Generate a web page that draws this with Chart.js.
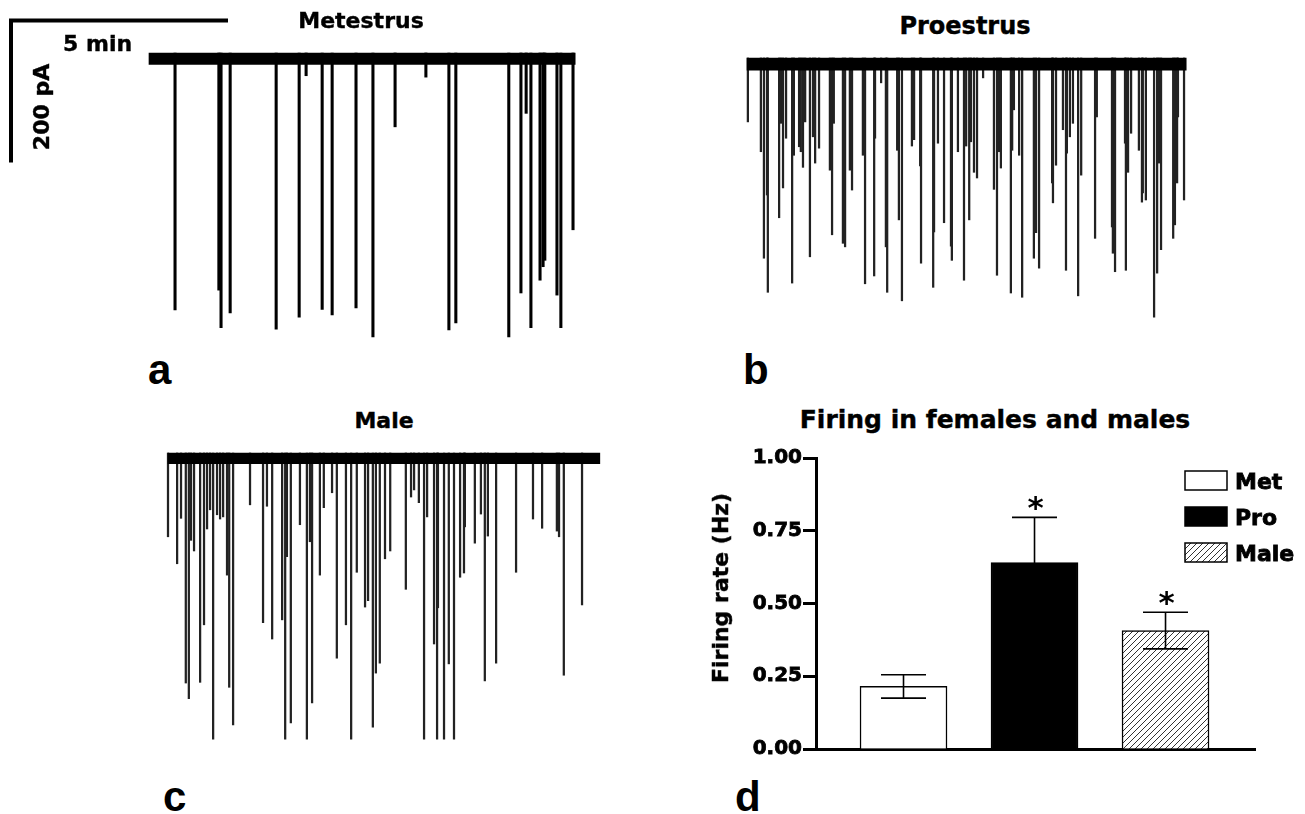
<!DOCTYPE html>
<html><head><meta charset="utf-8">
<script src="https://cdn.jsdelivr.net/npm/chart.js@4.4.1/dist/chart.umd.min.js"></script>
<style>
html,body{margin:0;padding:0;background:#fff;}
body{width:1305px;height:814px;position:relative;overflow:hidden;font-family:"DejaVu Sans",sans-serif;color:#000;}
.box{position:absolute;}
.t{position:absolute;white-space:nowrap;line-height:1;font-weight:bold;font-family:"DejaVu Sans",sans-serif;-webkit-text-stroke:0.4px #000;}
.c{transform:translateX(-50%);}
.rot{transform:translate(-50%,-50%) rotate(-90deg);}
.letter{font-family:"Liberation Sans",Arial,sans-serif;font-size:42px;-webkit-text-stroke:0;}
</style></head><body>
<div id="wa" class="box" style="left:0px;top:0px;width:590px;height:345px"><canvas id="ca"></canvas></div>
<div id="wb" class="box" style="left:735px;top:45px;width:465px;height:285px"><canvas id="cb"></canvas></div>
<div id="wc" class="box" style="left:155px;top:440px;width:460px;height:310px"><canvas id="cc"></canvas></div>
<div id="wd" class="box" style="left:700px;top:440px;width:605px;height:330px"><canvas id="cd"></canvas></div>

<div class="t c" style="left:361px;top:10px;font-size:22px">Metestrus</div>
<div class="t c" style="left:965px;top:14px;font-size:24px">Proestrus</div>
<div class="t c" style="left:384px;top:410px;font-size:22px">Male</div>
<div class="t c" style="left:995px;top:407px;font-size:25px">Firing in females and males</div>
<div class="t" style="left:63px;top:33px;font-size:22px">5 min</div>
<div class="t rot" style="left:42px;top:107px;font-size:22px">200 pA</div>
<div class="t rot" style="left:721px;top:588px;font-size:22px">Firing rate (Hz)</div>
<div class="t letter" style="left:148px;top:349px">a</div>
<div class="t letter" style="left:743px;top:349px">b</div>
<div class="t letter" style="left:163px;top:776px">c</div>
<div class="t letter" style="left:735px;top:776px">d</div>

<script>
// ---------------- DATA ----------------
// Spike times (min from trace start) and amplitudes (pA, inward)
const metTimes = [0.60,1.61,1.66,1.87,2.93,3.46,3.62,3.99,4.22,4.77,5.16,5.67,6.38,6.91,7.07,8.29,8.57,8.69,8.80,9.01,9.08,9.12,9.40,9.49,9.77];
const metAmps  = [362,334,387,366,389,372,32,361,369,359,400,104,34,390,380,400,338,85,387,320,301,292,341,387,249];
const metDuration = 9.82;

const proTimes = [0.02,0.32,0.39,0.46,0.48,0.74,0.78,0.83,0.90,1.04,1.08,1.20,1.24,1.29,1.34,1.45,1.52,1.57,1.66,1.91,1.96,2.00,2.21,2.26,2.37,2.42,2.67,2.72,2.93,2.95,3.09,3.20,3.23,3.46,3.50,3.57,3.80,3.85,3.99,4.01,4.29,4.31,4.40,4.54,4.70,4.72,4.86,5.00,5.05,5.12,5.16,5.23,5.30,5.44,5.69,5.76,5.81,5.85,6.08,6.11,6.15,6.27,6.34,6.61,6.66,6.73,7.03,7.05,7.12,7.28,7.35,7.37,7.44,7.51,7.63,7.70,8.02,8.06,8.41,8.43,8.48,8.71,8.73,8.78,8.85,9.03,9.10,9.12,9.19,9.38,9.45,9.49,9.54,9.82,9.86,9.91,9.93,10.07];
const proAmps  = [90,132,282,193,330,225,92,183,113,317,137,125,132,154,90,280,111,148,127,158,249,92,261,266,158,186,137,318,307,113,35,266,330,130,228,342,124,115,152,289,323,245,120,232,265,285,132,313,124,228,118,161,169,28,185,306,132,155,331,130,73,137,337,282,246,296,176,204,151,101,299,134,111,92,335,165,254,83,238,275,301,120,299,161,106,130,203,190,200,365,303,148,270,254,235,176,83,200];
const proDuration = 10.12;

const maleTimes = [0.00,0.21,0.30,0.41,0.48,0.53,0.60,0.74,0.83,0.90,0.97,1.04,1.13,1.20,1.27,1.36,1.41,1.50,1.89,2.19,2.28,2.40,2.63,2.70,2.74,2.83,3.04,3.20,3.27,3.32,3.50,3.59,3.78,3.89,4.10,4.22,4.35,4.54,4.61,4.72,4.79,4.88,5.00,5.12,5.48,5.60,5.67,5.78,5.90,5.97,6.13,6.20,6.22,6.36,6.47,6.59,6.73,6.82,6.84,7.07,7.21,7.30,7.37,7.56,8.02,8.41,8.62,8.96,9.01,9.12,9.54];
const maleAmps  = [118,156,92,324,346,123,138,323,242,107,80,403,87,93,90,172,330,383,73,239,75,262,235,403,146,380,101,403,125,352,172,77,56,289,242,403,168,217,208,386,310,296,149,138,192,62,52,70,403,90,269,403,218,403,297,403,175,169,104,127,86,321,117,296,168,93,106,110,118,313,214];
const maleDuration = 9.95;

const noiseBandPA = [16, 17, 15];   // baseline noise band thickness (Met, Pro, Male)
const scaleBarMin = 5;
const scaleBarPA = 200;

const categories = ['Met', 'Pro', 'Male'];
const meanRate   = [0.215, 0.641, 0.407];
const semRate    = [0.040, 0.155, 0.063];
const sigMarks   = ['', '*', '*'];
const yTicks     = [0, 0.25, 0.50, 0.75, 1.00];

// ---------------- LAYOUT ----------------
const PX_PER_MIN = 43.4;
const PX_PER_PA = 0.71;
const FONT = '"DejaVu Sans", sans-serif';

function traceChart(id, box, origin, times, amps, duration, band, spikeW, color, extra) {
  const xmin = (box.left - origin.x) / PX_PER_MIN;
  const xmax = (box.left + box.w - origin.x) / PX_PER_MIN;
  const ymax = (origin.y - box.top) / PX_PER_PA;
  const ymin = (origin.y - box.top - box.h) / PX_PER_PA;
  const datasets = [
    {type:'bar', data:[{x: duration/2, y:[0, -band]}], backgroundColor:'#000', borderWidth:0,
     barThickness: duration * PX_PER_MIN, grouped:false},
    {type:'bar', data: times.map((t,i)=>({x:t, y:[0, -amps[i]]})), backgroundColor: color, borderWidth:0,
     barThickness: spikeW, grouped:false}
  ].concat(extra || []);
  return new Chart(document.getElementById(id), {
    type:'bar',
    data:{datasets},
    options:{
      responsive:true, maintainAspectRatio:false, animation:false, events:[],
      layout:{padding:0},
      plugins:{legend:{display:false}, tooltip:{enabled:false}, title:{display:false}},
      scales:{
        x:{type:'linear', display:false, offset:false, min:xmin, max:xmax},
        y:{type:'linear', display:false, min:ymin, max:ymax}
      }
    }
  });
}

// scale bar corner placement (px) converted into trace-a units
const originA = {x:149, y:53};
const sbCorner = {x:(11 - originA.x)/PX_PER_MIN, y:(originA.y - 20.5)/PX_PER_PA};
const scaleBar = {
  type:'line',
  data:[{x:sbCorner.x, y:sbCorner.y - scaleBarPA}, {x:sbCorner.x, y:sbCorner.y}, {x:sbCorner.x + scaleBarMin, y:sbCorner.y}],
  borderColor:'#000', borderWidth:4, pointRadius:0, fill:false, tension:0,
  borderJoinStyle:'miter', borderCapStyle:'butt'
};

traceChart('ca', {left:0, top:0, w:590, h:345}, originA, metTimes, metAmps, metDuration, noiseBandPA[0], 2.4, '#000', [scaleBar]);
traceChart('cb', {left:735, top:45, w:465, h:285}, {x:747, y:58}, proTimes, proAmps, proDuration, noiseBandPA[1], 1.6, '#222');
traceChart('cc', {left:155, top:440, w:460, h:310}, {x:168, y:453}, maleTimes, maleAmps, maleDuration, noiseBandPA[2], 1.6, '#222');

// ---------------- BAR CHART ----------------
const hatch = (() => {
  const c = document.createElement('canvas'); c.width = 6; c.height = 6;
  const g = c.getContext('2d');
  g.fillStyle = '#fff'; g.fillRect(0,0,6,6);
  g.strokeStyle = '#333'; g.lineWidth = 1;
  g.beginPath();
  g.moveTo(0,6); g.lineTo(6,0);
  g.moveTo(-1,1); g.lineTo(1,-1);
  g.moveTo(5,7); g.lineTo(7,5);
  g.stroke();
  return g.createPattern(c, 'repeat');
})();
const barColors = ['#fff', '#000', hatch];

const errorBarPlugin = {
  id:'errorBars',
  afterDatasetsDraw(chart) {
    const ctx = chart.ctx, ys = chart.scales.y;
    const meta = chart.getDatasetMeta(0);
    ctx.save();
    meta.data.forEach((bar, i) => {
      const x = bar.x;
      const top = ys.getPixelForValue(meanRate[i] + semRate[i]);
      const bot = ys.getPixelForValue(meanRate[i] - semRate[i]);
      const hw = 22.5;
      ctx.strokeStyle = '#000'; ctx.lineWidth = 1.6;
      ctx.beginPath();
      ctx.moveTo(x, top); ctx.lineTo(x, bot);
      ctx.moveTo(x - hw, top); ctx.lineTo(x + hw, top);
      ctx.moveTo(x - hw, bot); ctx.lineTo(x + hw, bot);
      ctx.stroke();
      if (sigMarks[i]) {
        ctx.fillStyle = '#000';
        ctx.font = 'bold 31px ' + FONT;
        ctx.textAlign = 'center'; ctx.textBaseline = 'alphabetic';
        ctx.fillText(sigMarks[i], x + 1, top + 1);
      }
    });
    ctx.restore();
  }
};

const legendPlugin = {
  id:'boxLegend',
  afterDraw(chart) {
    const ctx = chart.ctx;
    const bx = 485, by = 31, bw = 42, bh = 19, step = 36;
    ctx.save();
    categories.forEach((name, i) => {
      const y = by + i * step;
      ctx.fillStyle = barColors[i];
      ctx.fillRect(bx, y, bw, bh);
      ctx.strokeStyle = '#000'; ctx.lineWidth = 1.5;
      ctx.strokeRect(bx, y, bw, bh);
      ctx.fillStyle = '#000';
      ctx.font = 'bold 22px ' + FONT;
      ctx.textAlign = 'left'; ctx.textBaseline = 'alphabetic';
      ctx.lineWidth = 0.8;
      ctx.strokeText(name, bx + bw + 8, y + bh/2 + 8.5);
      ctx.fillText(name, bx + bw + 8, y + bh/2 + 8.5);
    });
    ctx.restore();
  }
};

new Chart(document.getElementById('cd'), {
  type:'bar',
  data:{
    labels: categories,
    datasets:[{
      data: categories.map((c,i)=>({x:i+1, y:meanRate[i]})),
      backgroundColor: barColors,
      borderColor:'#000', borderWidth:1.5,
      barThickness:87
    }]
  },
  options:{
    responsive:true, maintainAspectRatio:false, animation:false, events:[],
    layout:{padding:{top:18, right:50, left:0, bottom:0}},
    plugins:{legend:{display:false}, tooltip:{enabled:false}, title:{display:false}},
    scales:{
      x:{type:'linear', min:0.332, max:3.683, offset:false,
         grid:{display:false}, ticks:{display:false},
         border:{display:true, color:'#000', width:3},
         afterFit(s){ s.height = 21; }},
      y:{type:'linear', min:0, max:1,
         afterBuildTicks(s){ s.ticks = yTicks.map(v=>({value:v})); },
         ticks:{callback:(v)=>Number(v).toFixed(2), color:'#000', padding:1,
                textStrokeColor:'#000', textStrokeWidth:0.8,
                font:{family:FONT, weight:'bold', size:20}},
         grid:{display:true, drawOnChartArea:false, drawTicks:true, tickLength:13,
               tickWidth:3, tickColor:'#000', color:'#000'},
         border:{display:true, color:'#000', width:3},
         afterFit(s){ s.width = 116; }}
    }
  },
  plugins:[errorBarPlugin, legendPlugin]
});
</script>
</body></html>
